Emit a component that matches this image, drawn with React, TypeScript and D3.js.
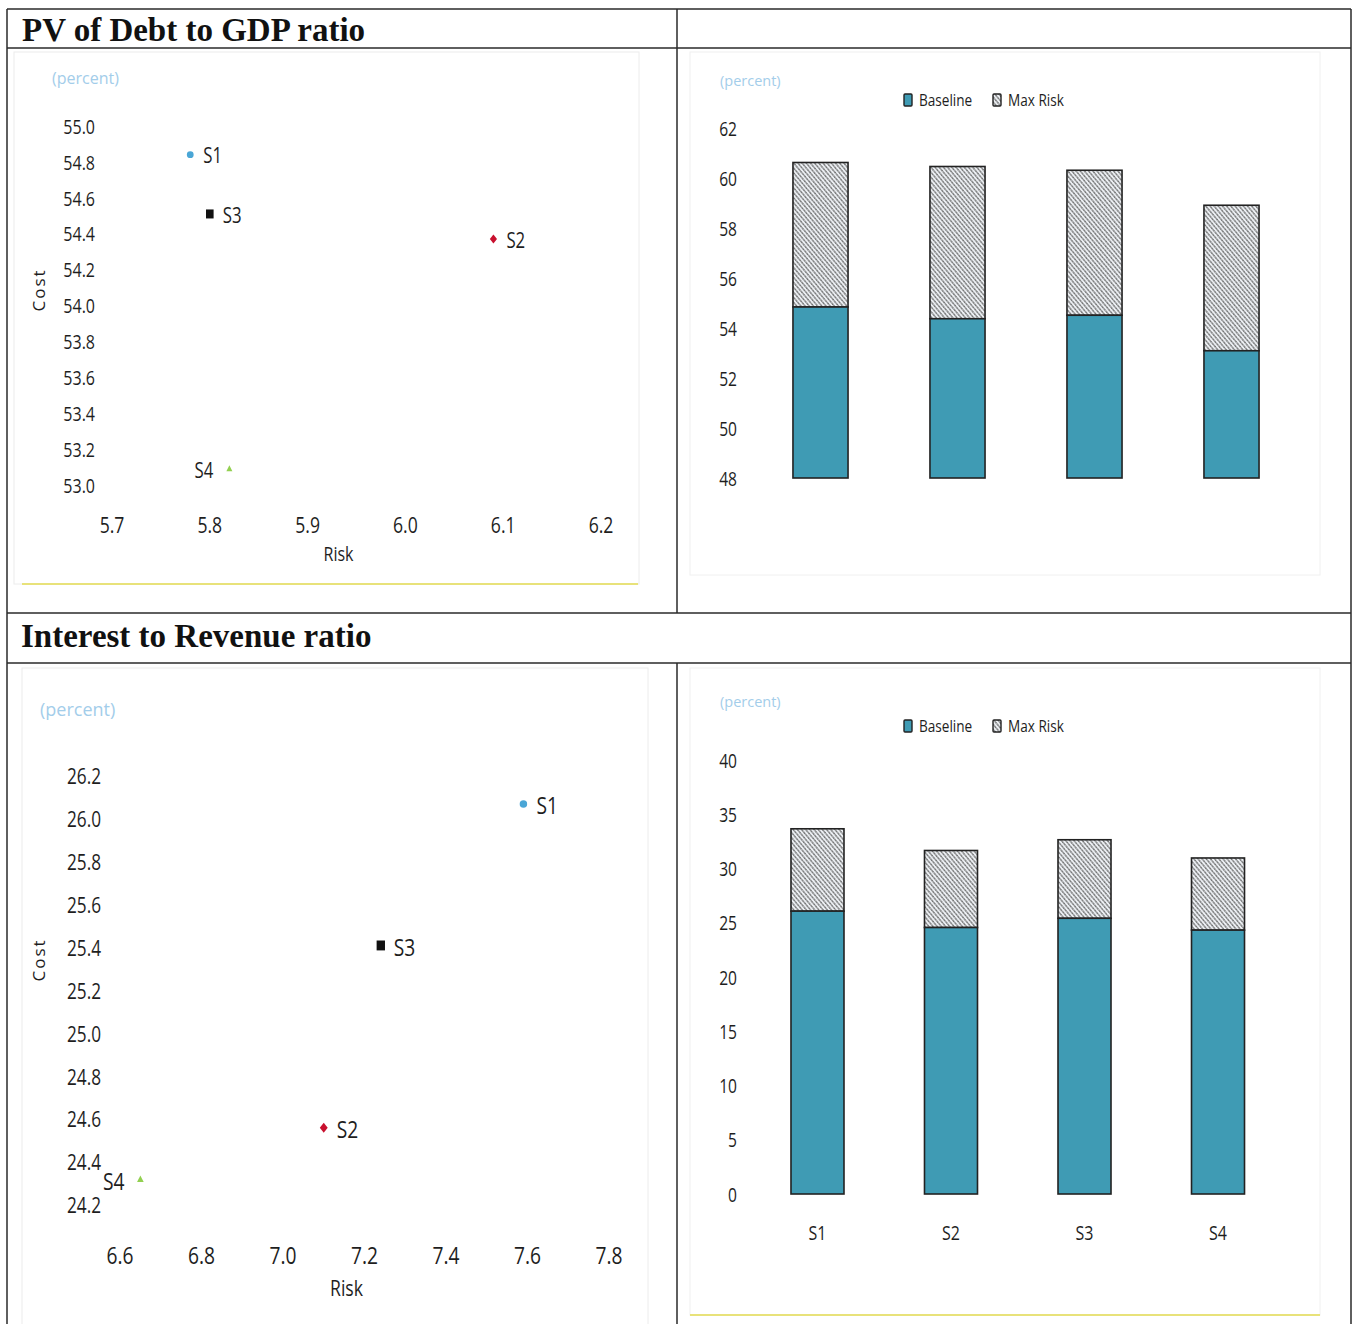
import React from "react";
import * as d3 from "d3";

// Scenario data: cost (Baseline level) and risk (Max Risk increment)
const scenarios = ["S1", "S2", "S3", "S4"];
const debtCost = [54.84, 54.37, 54.51, 53.09];
const debtRisk = [5.78, 6.09, 5.8, 5.82];
const intCost = [26.07, 24.56, 25.41, 24.32];
const intRisk = [7.59, 7.1, 7.24, 6.65];

// Axis ticks
const debtCostTicks = [53.0, 53.2, 53.4, 53.6, 53.8, 54.0, 54.2, 54.4, 54.6, 54.8, 55.0];
const debtRiskTicks = [5.7, 5.8, 5.9, 6.0, 6.1, 6.2];
const intCostTicks = [24.2, 24.4, 24.6, 24.8, 25.0, 25.2, 25.4, 25.6, 25.8, 26.0, 26.2];
const intRiskTicks = [6.6, 6.8, 7.0, 7.2, 7.4, 7.6, 7.8];
const debtBarTicks = [48, 50, 52, 54, 56, 58, 60, 62];
const intBarTicks = [0, 5, 10, 15, 20, 25, 30, 35, 40];

const legendItems = ["Baseline", "Max Risk"];

const SANS = "'Open Sans', 'Noto Sans', sans-serif";
const SERIF = "'Liberation Serif', 'Times New Roman', serif";
const TEAL = "#3f9bb4";
const PCT = "#a3cdea";
const INK = "#1e1e1e";
const SQUEEZE = 0.8;

const markerColors = ["#4aa6d6", "#c8102e", "#111111", "#92d050"];

// Horizontally condensed label
function T({
  x,
  y,
  size,
  anchor = "start",
  children,
  fill = INK,
}: {
  x: number;
  y: number;
  size: number;
  anchor?: "start" | "middle" | "end";
  children: React.ReactNode;
  fill?: string;
}) {
  return (
    <text
      transform={`translate(${x},${y}) scale(${SQUEEZE},1)`}
      textAnchor={anchor}
      dominantBaseline="central"
      fontFamily={SANS}
      fontSize={size}
      fill={fill}
    >
      {children}
    </text>
  );
}

function Marker({ i, x, y, s }: { i: number; x: number; y: number; s: number }) {
  const c = markerColors[i];
  if (i === 0) return <circle cx={x} cy={y} r={3.4 * s} fill={c} />;
  if (i === 1)
    return (
      <path
        d={`M${x},${y - 4.5 * s}L${x + 3.6 * s},${y}L${x},${y + 4.5 * s}L${x - 3.6 * s},${y}Z`}
        fill={c}
      />
    );
  if (i === 2) return <rect x={x - 3.8 * s} y={y - 4.5 * s} width={7.6 * s} height={9 * s} fill={c} />;
  return (
    <path d={`M${x},${y - 3.5 * s}L${x + 3 * s},${y + 2.5 * s}L${x - 3 * s},${y + 2.5 * s}Z`} fill={c} />
  );
}

type ScatterProps = {
  cost: number[];
  risk: number[];
  costTicks: number[];
  riskTicks: number[];
  xRange: [number, number];
  yRange: [number, number];
  yLabelX: number;
  xLabelY: number;
  riskTitleY: number;
  costTitle: [number, number];
  pct: [number, number, number];
  yFont: number;
  xFont: number;
  ptFont: number;
  ms: number;
};

function Scatter(p: ScatterProps) {
  const x = d3
    .scaleLinear()
    .domain([p.riskTicks[0], p.riskTicks[p.riskTicks.length - 1]])
    .range(p.xRange);
  const y = d3
    .scaleLinear()
    .domain([p.costTicks[0], p.costTicks[p.costTicks.length - 1]])
    .range(p.yRange);
  return (
    <g>
      <text x={p.pct[0]} y={p.pct[1]} fill={PCT} fontFamily={SANS} fontSize={p.pct[2]} dominantBaseline="middle">
        (percent)
      </text>
      {p.costTicks.map((t) => (
        <T key={t} x={p.yLabelX} y={y(t)} size={p.yFont} anchor="end">
          {t.toFixed(1)}
        </T>
      ))}
      {p.riskTicks.map((t) => (
        <T key={t} x={x(t)} y={p.xLabelY} size={p.xFont} anchor="middle">
          {t.toFixed(1)}
        </T>
      ))}
      <T x={(p.xRange[0] + p.xRange[1]) / 2 - 18} y={p.riskTitleY} size={p.xFont - 2} anchor="middle">
        Risk
      </T>
      <text
        transform={`translate(${p.costTitle[0]},${p.costTitle[1]}) rotate(-90)`}
        textAnchor="middle"
        dominantBaseline="central"
        fontFamily={SANS}
        fontSize={17}
        letterSpacing={2}
        fill={INK}
      >
        Cost
      </text>
      {scenarios.map((s, i) => {
        const px = x(p.risk[i]);
        const py = y(p.cost[i]);
        const left = s === "S4";
        return (
          <g key={s}>
            <Marker i={i} x={px} y={py} s={p.ms} />
            <T x={left ? px - 16 : px + 13} y={py + 1} size={p.ptFont} anchor={left ? "end" : "start"}>
              {s}
            </T>
          </g>
        );
      })}
    </g>
  );
}

type BarProps = {
  cost: number[];
  risk: number[];
  ticks: number[];
  yRange: [number, number];
  xRange: [number, number];
  pInner: number;
  pOuter: number;
  tickX: number;
  legendY: number;
  pct: [number, number];
  showCats: boolean;
  catY: number;
};

function Bars(p: BarProps) {
  const y = d3.scaleLinear().domain([p.ticks[0], p.ticks[p.ticks.length - 1]]).range(p.yRange);
  const x = d3.scaleBand().domain(scenarios).range(p.xRange).paddingInner(p.pInner).paddingOuter(p.pOuter);
  const stack = scenarios.map((s, i) => ({ s, base: p.cost[i], top: p.cost[i] + p.risk[i] }));
  return (
    <g>
      <text x={p.pct[0]} y={p.pct[1]} fill={PCT} fontFamily={SANS} fontSize={14.5} dominantBaseline="middle">
        (percent)
      </text>
      {p.ticks.map((t) => (
        <T key={t} x={p.tickX} y={y(t)} size={19.5} anchor="end">
          {t}
        </T>
      ))}
      {stack.map((d) => (
        <g key={d.s}>
          <rect
            x={x(d.s)}
            y={y(d.top)}
            width={x.bandwidth()}
            height={y(d.base) - y(d.top)}
            fill="url(#hatch)"
            stroke="#222"
            strokeWidth={1.6}
          />
          <rect
            x={x(d.s)}
            y={y(d.base)}
            width={x.bandwidth()}
            height={y(p.ticks[0]) - y(d.base)}
            fill={TEAL}
            stroke="#222"
            strokeWidth={1.6}
          />
          {p.showCats && (
            <T x={(x(d.s) as number) + x.bandwidth() / 2} y={p.catY} size={20} anchor="middle">
              {d.s}
            </T>
          )}
        </g>
      ))}
      {legendItems.map((l, i) => {
        const lx = 904 + i * 89;
        return (
          <g key={l}>
            <rect
              x={lx}
              y={p.legendY - 6}
              width={8}
              height={12}
              rx={1}
              fill={i === 0 ? TEAL : "url(#hatch)"}
              stroke="#222"
              strokeWidth={1.4}
            />
            <T x={lx + 15} y={p.legendY} size={17}>
              {l}
            </T>
          </g>
        );
      })}
    </g>
  );
}

export default function App() {
  const lineColor = "#2a2a2a";
  return (
    <svg width={1356} height={1324} style={{ position: "absolute", left: 0, top: 0, background: "#fff" }}>
      <defs>
        <pattern id="hatch" width={3.2} height={3.2} patternUnits="userSpaceOnUse" patternTransform="rotate(-40)">
          <rect width={3.2} height={3.2} fill="#eceff3" />
          <line x1={0.8} y1={0} x2={0.8} y2={3.2} stroke="#484848" strokeWidth={1.15} strokeDasharray="1.2 0.6" />
        </pattern>
      </defs>

      {/* inner chart frames */}
      <rect x={14} y={52} width={625} height={532} fill="none" stroke="#ececec" />
      <rect x={690} y={52} width={630} height={523} fill="none" stroke="#f0f0f0" />
      <rect x={22} y={668} width={626} height={660} fill="none" stroke="#ececec" />
      <rect x={690} y={668} width={630} height={647} fill="none" stroke="#f0f0f0" />
      <line x1={22} x2={638} y1={584} y2={584} stroke="#e8e27a" strokeWidth={2} />
      <line x1={690} x2={1320} y1={1315} y2={1315} stroke="#e8e27a" strokeWidth={2} />

      {/* table grid */}
      <g stroke={lineColor} strokeWidth={1.5}>
        <line x1={7} x2={1351} y1={9} y2={9} />
        <line x1={7} x2={1351} y1={48} y2={48} />
        <line x1={7} x2={1351} y1={613} y2={613} />
        <line x1={7} x2={1351} y1={663} y2={663} />
        <line x1={7} x2={7} y1={9} y2={1324} />
        <line x1={677} x2={677} y1={9} y2={613} />
        <line x1={677} x2={677} y1={663} y2={1324} />
        <line x1={1351} x2={1351} y1={9} y2={1324} />
      </g>

      <text x={22} y={41} fontFamily={SERIF} fontWeight="bold" fontSize={33} fill="#111">
        PV of Debt to GDP ratio
      </text>
      <text x={21} y={647} fontFamily={SERIF} fontWeight="bold" fontSize={33} fill="#111">
        Interest to Revenue ratio
      </text>

      <Scatter
        cost={debtCost}
        risk={debtRisk}
        costTicks={debtCostTicks}
        riskTicks={debtRiskTicks}
        xRange={[112, 601]}
        yRange={[485, 126]}
        yLabelX={95}
        xLabelY={525}
        riskTitleY={553}
        costTitle={[38, 290]}
        pct={[52, 80, 16]}
        yFont={20}
        xFont={22}
        ptFont={21}
        ms={1}
      />
      <Bars
        cost={debtCost}
        risk={debtRisk}
        ticks={debtBarTicks}
        yRange={[478, 128]}
        xRange={[752, 1300]}
        pInner={0.598}
        pOuter={0.299}
        tickX={737}
        legendY={100}
        pct={[720, 82]}
        showCats={false}
        catY={0}
      />
      <Scatter
        cost={intCost}
        risk={intRisk}
        costTicks={intCostTicks}
        riskTicks={intRiskTicks}
        xRange={[120, 609]}
        yRange={[1205, 776]}
        yLabelX={101}
        xLabelY={1255}
        riskTitleY={1288}
        costTitle={[38, 960]}
        pct={[40, 711, 18]}
        yFont={21.5}
        xFont={24}
        ptFont={24}
        ms={1.1}
      />
      <Bars
        cost={intCost}
        risk={intRisk}
        ticks={intBarTicks}
        yRange={[1194, 760]}
        xRange={[750, 1285.5]}
        pInner={0.603}
        pOuter={0.307}
        tickX={737}
        legendY={726}
        pct={[720, 703]}
        showCats={true}
        catY={1232}
      />
    </svg>
  );
}
